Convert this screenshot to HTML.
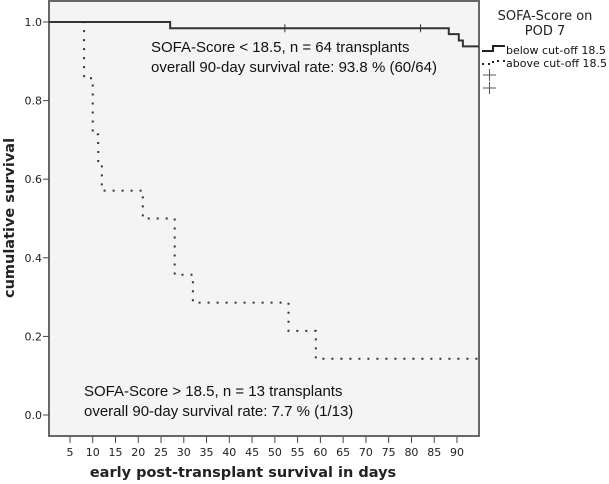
<!DOCTYPE html>
<html><head><meta charset="utf-8"><style>
body{margin:0;background:#fff;width:609px;height:484px;overflow:hidden}
svg{display:block;font-family:"Liberation Sans",sans-serif}
.dv{font-family:"DejaVu Sans",sans-serif}
</style></head><body>
<svg id="chart" width="609" height="484">
<defs><clipPath id="pc"><rect x="49" y="1" width="430" height="435"/></clipPath></defs>
<rect x="49" y="1" width="430" height="435" fill="#f4f4f4" stroke="#666" stroke-width="2"/>
<g id="yaxis" class="dv"></g>
<g id="xaxis" class="dv"></g>
<text class="dv" x="14" y="218" transform="rotate(-90 14 218)" text-anchor="middle" font-size="14.5" font-weight="bold" fill="#222">cumulative survival</text>
<text class="dv" x="243" y="477" text-anchor="middle" font-size="14.5" font-weight="bold" fill="#222">early post-transplant survival in days</text>
<g id="series" clip-path="url(#pc)"></g>
<g font-size="15" fill="#111">
<text x="151" y="52">SOFA-Score &lt; 18.5, n = 64 transplants</text>
<text x="151" y="72">overall 90-day survival rate: 93.8 % (60/64)</text>
</g>
<g font-size="15" fill="#111">
<text x="84" y="396">SOFA-Score &gt; 18.5, n = 13 transplants</text>
<text x="84" y="416">overall 90-day survival rate: 7.7 % (1/13)</text>
</g>
<g class="dv">
<text x="545" y="20" text-anchor="middle" font-size="13" fill="#222">SOFA-Score on</text>
<text x="545" y="35" text-anchor="middle" font-size="13" fill="#222">POD 7</text>
<path d="M482,51 H493 V46 H505" fill="none" stroke="#222" stroke-width="2"/>
<text x="506" y="54" font-size="11" fill="#111">below cut-off 18.5</text>
<path d="M482,64 H493 V61 H505" fill="none" stroke="#222" stroke-width="2" stroke-dasharray="2,4"/>
<text x="506" y="67" font-size="11" fill="#111">above cut-off 18.5</text>
<path d="M483,75 H496 M489.5,69 V81 M483,88 H496 M489.5,82 V94" stroke="#555" stroke-width="1"/>
</g>
</svg>
<script>
const yTicks=[0,0.2,0.4,0.6,0.8,1.0];
const xTicks=[5,10,15,20,25,30,35,40,45,50,55,60,65,70,75,80,85,90];
const lowTimes=[27,88.2,90.4,91.3];
const lowSurv=[0.984,0.969,0.953,0.938];
const lowCensor=[52.2,82];
const highTimes=[8.1,10,11.2,12,21,28,32,53,59];
const highSurv=[0.857,0.714,0.643,0.571,0.5,0.357,0.286,0.214,0.143];
const xMax=94.8;
const NS="http://www.w3.org/2000/svg";
const X=d=>47.2+4.553*d;
const Y=s=>415-393*s;
function mk(tag,attrs,parent){const e=document.createElementNS(NS,tag);for(const k in attrs)e.setAttribute(k,attrs[k]);parent.appendChild(e);return e;}
const ya=document.getElementById('yaxis'),xa=document.getElementById('xaxis'),sg=document.getElementById('series');
yTicks.forEach(v=>{
 const l=mk('line',{x1:43,x2:49,y1:Y(v),y2:Y(v),stroke:'#444'},ya);
 
 
 const t=mk('text',{x:42,y:Y(v)+4,'text-anchor':'end','font-size':11,fill:'#222'},ya);
 t.textContent=v.toFixed(1);
 
 
});
xTicks.forEach(v=>{
 const l=mk('line',{x1:X(v),x2:X(v),y1:437,y2:443,stroke:'#444'},xa);
 
 
 const t=mk('text',{x:X(v),y:456,'text-anchor':'middle','font-size':11,fill:'#222'},xa);
 t.textContent=v;
 
 
});
function stepPath(times,surv){let d='M'+X(0)+','+Y(1);times.forEach((t,i)=>{d+=' H'+X(t)+' V'+Y(surv[i]);});d+=' H'+X(xMax);return d;}
const pl=mk('path',{d:stepPath(lowTimes,lowSurv),fill:'none',stroke:'#333','stroke-width':2},sg);


const ph=mk('path',{d:stepPath(highTimes,highSurv),fill:'none',stroke:'#333','stroke-width':2,'stroke-dasharray':'2,7'},sg);


function survAt(times,surv,t){let s=1;times.forEach((tt,i)=>{if(tt<=t)s=surv[i];});return s;}
lowCensor.forEach(c=>{
 const y=Y(survAt(lowTimes,lowSurv,c));
 const m=mk('line',{x1:X(c),x2:X(c),y1:y-4,y2:y+4,stroke:'#333'},sg);
 
 
});
</script>
</body></html>
